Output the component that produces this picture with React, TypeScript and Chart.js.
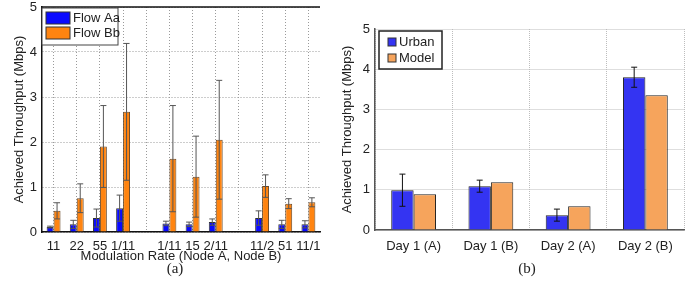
import React, { useEffect, useRef } from "react";
import { Chart, registerables } from "chart.js";

Chart.register(...registerables);

// ---------- data: panel (a) ----------
const rateLabels = ["11", "22", "55", "1/11", "", "1/11", "15", "2/11", "", "11/2", "51", "11/1"];
const flowAa = [0.11, 0.17, 0.31, 0.53, null, 0.19, 0.17, 0.22, null, 0.31, 0.17, 0.17];
const flowAaErr = [0.02, 0.09, 0.2, 0.29, null, 0.05, 0.05, 0.07, null, 0.16, 0.09, 0.08];
const flowBb = [0.47, 0.75, 1.9, 2.67, null, 1.63, 1.23, 2.05, null, 1.02, 0.63, 0.66];
const flowBbErr = [0.18, 0.32, 0.91, 1.52, null, 1.18, 0.9, 1.32, null, 0.25, 0.11, 0.1];

// ---------- data: panel (b) ----------
const dayLabels = ["Day 1 (A)", "Day 1 (B)", "Day 2 (A)", "Day 2 (B)"];
const urban = [0.99, 1.09, 0.37, 3.8];
const urbanErr = [0.4, 0.15, 0.15, 0.25];
const model = [0.89, 1.19, 0.59, 3.35];

const yMin = 0;
const yMax = 5;
const yStep = 1;

const FONT = "'Liberation Sans', Arial, Helvetica, sans-serif";

const errorBarPlugin = {
  id: "errorBars",
  afterDatasetsDraw(chart: any, _args: any, opts: any) {
    const ctx = chart.ctx;
    const y = chart.scales.y;
    chart.data.datasets.forEach((ds: any, di: number) => {
      if (!ds.errors) return;
      const meta = chart.getDatasetMeta(di);
      meta.data.forEach((el: any, i: number) => {
        const v = ds.data[i];
        const e = ds.errors[i];
        if (v == null || e == null) return;
        const x = el.x;
        const yt = y.getPixelForValue(v + e);
        const yb = y.getPixelForValue(Math.max(0, v - e));
        const cap = opts.cap;
        ctx.save();
        ctx.strokeStyle = opts.color;
        ctx.lineWidth = opts.width;
        ctx.beginPath();
        ctx.moveTo(x, yt);
        ctx.lineTo(x, yb);
        ctx.moveTo(x - cap, yt);
        ctx.lineTo(x + cap, yt);
        ctx.moveTo(x - cap, yb);
        ctx.lineTo(x + cap, yb);
        ctx.stroke();
        ctx.restore();
      });
    });
  },
};

const boxLegendPlugin = {
  id: "boxLegend",
  afterDraw(chart: any, _args: any, o: any) {
    const ctx = chart.ctx;
    const a = chart.chartArea;
    const bx = a.left + o.dx;
    const by = a.top + o.dy;
    ctx.save();
    ctx.fillStyle = "#fff";
    ctx.fillRect(bx, by, o.w, o.h);
    ctx.strokeStyle = o.borderColor;
    ctx.lineWidth = o.borderWidth;
    ctx.strokeRect(bx, by, o.w, o.h);
    ctx.font = `${o.fontSize}px ${FONT}`;
    ctx.textBaseline = "middle";
    chart.data.datasets.forEach((ds: any, i: number) => {
      const cy = by + o.firstRow + i * o.rowGap;
      ctx.fillStyle = ds.backgroundColor;
      ctx.fillRect(bx + o.swX, cy - o.swH / 2, o.swW, o.swH);
      ctx.strokeStyle = "#333";
      ctx.lineWidth = 1;
      ctx.strokeRect(bx + o.swX, cy - o.swH / 2, o.swW, o.swH);
      ctx.fillStyle = "#222";
      ctx.fillText(ds.label, bx + o.textX, cy + 0.5);
    });
    ctx.restore();
  },
};

const topFramePlugin = {
  id: "topFrame",
  afterDatasetsDraw(chart: any, _args: any, o: any) {
    if (!o || !o.show) return;
    const ctx = chart.ctx;
    const a = chart.chartArea;
    ctx.save();
    ctx.strokeStyle = o.color;
    ctx.lineWidth = o.width;
    ctx.beginPath();
    ctx.moveTo(a.left, a.top);
    ctx.lineTo(a.right, a.top);
    ctx.stroke();
    ctx.restore();
  },
};

function PanelA() {
  const ref = useRef<HTMLCanvasElement>(null);
  useEffect(() => {
    const chart = new Chart(ref.current as HTMLCanvasElement, {
      type: "bar",
      data: {
        labels: rateLabels,
        datasets: [
          {
            label: "Flow Aa",
            data: flowAa,
            errors: flowAaErr,
            backgroundColor: "#0a0aff",
            borderColor: "#333",
            borderWidth: 1,
            categoryPercentage: 0.6,
            barPercentage: 1,
          } as any,
          {
            label: "Flow Bb",
            data: flowBb,
            errors: flowBbErr,
            backgroundColor: "#ff8410",
            borderColor: "#6a4a2a",
            borderWidth: 1,
            categoryPercentage: 0.6,
            barPercentage: 1,
          } as any,
        ],
      },
      plugins: [errorBarPlugin, boxLegendPlugin, topFramePlugin],
      options: {
        animation: false,
        responsive: false,
        devicePixelRatio: 1,
        layout: { padding: { top: 7, left: 0, right: 20, bottom: 0 } },
        plugins: {
          legend: { display: false },
          tooltip: { enabled: false },
          errorBars: { color: "#555", width: 1, cap: 3 },
          boxLegend: {
            dx: 0, dy: 1, w: 76, h: 37, borderColor: "#444", borderWidth: 1,
            fontSize: 13, firstRow: 10, rowGap: 15, swX: 4, swW: 24, swH: 12, textX: 31,
          },
          topFrame: { show: true, color: "#111", width: 1.5 },
        } as any,
        scales: {
          x: {
            offset: true,
            grid: { offset: false, color: "#9a9a9a", drawTicks: false, lineWidth: 1 },
            border: { color: "#111", width: 1.5, dash: [1, 2] },
            ticks: { color: "#222", font: { size: 13, family: FONT }, padding: 7, maxRotation: 0, autoSkip: false },
            title: {
              display: true,
              text: "Modulation Rate (Node A, Node B)",
              color: "#222",
              font: { size: 13, family: FONT },
              padding: { top: 0, bottom: 0 },
            },
            afterFit: (s: any) => { s.height = 32; s.paddingLeft = 0; s.paddingRight = 0; },
          },
          y: {
            min: yMin,
            max: yMax,
            grid: { color: "#9a9a9a", drawTicks: false },
            border: { color: "#111", width: 1.5, dash: [1, 2] },
            ticks: { stepSize: yStep, color: "#222", font: { size: 13, family: FONT }, padding: 5 },
            title: {
              display: true,
              text: "Achieved Throughput (Mbps)",
              color: "#222",
              font: { size: 13, family: FONT },
              padding: { top: 12, bottom: 0 },
            },
            afterFit: (s: any) => { s.width = 42; s.paddingTop = 0; s.paddingBottom = 0; },
          },
        },
      },
    });
    return () => chart.destroy();
  }, []);
  return <canvas ref={ref} width={340} height={264} style={{ position: "absolute", left: 0, top: 0 }} />;
}

function PanelB() {
  const ref = useRef<HTMLCanvasElement>(null);
  useEffect(() => {
    const chart = new Chart(ref.current as HTMLCanvasElement, {
      type: "bar",
      data: {
        labels: dayLabels,
        datasets: [
          {
            label: "Urban",
            data: urban,
            errors: urbanErr,
            backgroundColor: "#3434f2",
            borderColor: "#222",
            borderWidth: 1,
            categoryPercentage: 0.58,
            barPercentage: 1,
          } as any,
          {
            label: "Model",
            data: model,
            backgroundColor: "#f6a45c",
            borderColor: "#222",
            borderWidth: 1,
            categoryPercentage: 0.58,
            barPercentage: 1,
          } as any,
        ],
      },
      plugins: [errorBarPlugin, boxLegendPlugin],
      options: {
        animation: false,
        responsive: false,
        devicePixelRatio: 1,
        layout: { padding: { top: 29, left: 0, right: 12, bottom: 0 } },
        plugins: {
          legend: { display: false },
          tooltip: { enabled: false },
          errorBars: { color: "#111", width: 1, cap: 3 },
          boxLegend: {
            dx: 4, dy: 2, w: 63, h: 38, borderColor: "#222", borderWidth: 1.5,
            fontSize: 13, firstRow: 11, rowGap: 16, swX: 9, swW: 8, swH: 8, textX: 20,
          },
        } as any,
        scales: {
          x: {
            offset: true,
            grid: { offset: true, color: "#bdbdbd", drawTicks: false },
            border: { color: "#555", width: 1.5, dash: [1, 1] },
            ticks: { color: "#222", font: { size: 13, family: FONT }, padding: 9, maxRotation: 0 },
            afterFit: (s: any) => { s.height = 34; s.paddingLeft = 0; s.paddingRight = 0; },
          },
          y: {
            min: yMin,
            max: yMax,
            grid: { color: "#bdbdbd", drawTicks: false },
            border: { color: "#555", width: 1.5, dash: [1, 1] },
            ticks: { stepSize: yStep, color: "#222", font: { size: 13, family: FONT }, padding: 5 },
            title: {
              display: true,
              text: "Achieved Throughput (Mbps)",
              color: "#222",
              font: { size: 13, family: FONT },
              padding: { top: 0, bottom: 0 },
            },
            afterFit: (s: any) => { s.width = 35; s.paddingTop = 0; s.paddingBottom = 0; },
          },
        },
      },
    });
    return () => chart.destroy();
  }, []);
  return <canvas ref={ref} width={356} height={264} style={{ position: "absolute", left: 340, top: 0 }} />;
}

const captionStyle: React.CSSProperties = {
  position: "absolute",
  top: 259,
  width: 60,
  textAlign: "center",
  fontFamily: "'Liberation Serif', 'DejaVu Serif', serif",
  fontSize: 15,
  color: "#222",
  lineHeight: "18px",
};

export default function App() {
  return (
    <div style={{ position: "fixed", left: 0, top: 0, width: 696, height: 284, background: "#fff", overflow: "hidden" }}>
      <PanelA />
      <PanelB />
      <div style={{ ...captionStyle, left: 145 }}>(a)</div>
      <div style={{ ...captionStyle, left: 497 }}>(b)</div>
    </div>
  );
}
